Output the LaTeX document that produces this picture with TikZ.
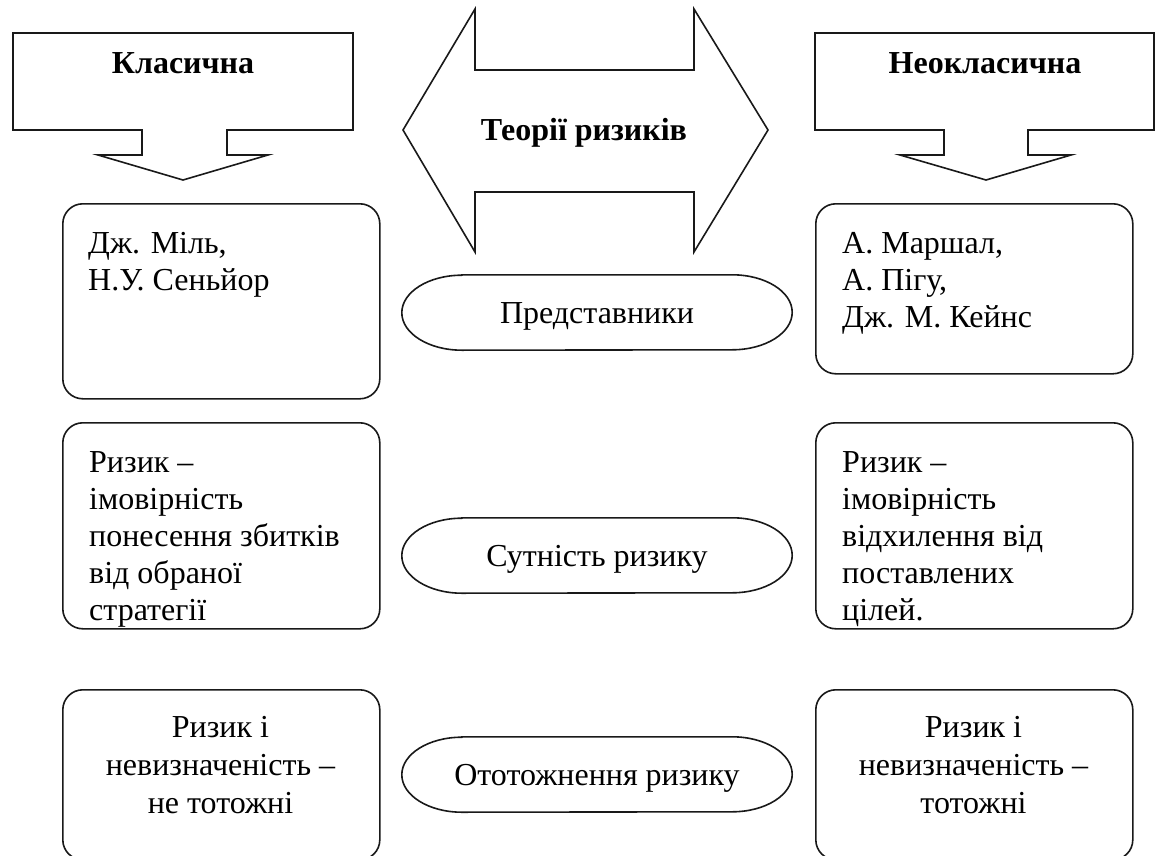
\documentclass[tikz,border=0pt]{standalone}
\usepackage{fontspec}
\setmainfont{Liberation Serif}
\begin{document}
\begin{tikzpicture}[x=1pt,y=-1pt,
  outline/.style={draw=black!90, line width=1.6pt, line join=miter},
  card/.style={draw=black!90, line width=1.6pt, rounded corners=20pt, inner sep=0pt, anchor=north west},
  bodytext/.style={font=\fontsize{32}{37}\selectfont, inner sep=0pt},
  wide/.style={font=\fontsize{32}{38}\selectfont, inner sep=0pt},
  headtext/.style={font=\bfseries\fontsize{32}{37}\selectfont, inner sep=0pt},
  pill/.style={font=\fontsize{32}{37}\selectfont, inner sep=0pt, minimum width=390pt, minimum height=75pt, text height=21pt, text depth=0pt}]

\useasboundingbox[fill=white] (0,0) rectangle (1156,856);

% left header: box with a downward arrow
\draw[outline] (13,33) -- (353,33) -- (353,130) -- (227,130) -- (227,155) -- (268,155)
  -- (183,180) -- (98,155) -- (142,155) -- (142,130) -- (13,130) -- cycle;
\node[headtext, anchor=base] (classic) at (183,74) {Класична};

% right header: box with a downward arrow
\draw[outline] (815,33) -- (1154,33) -- (1154,130) -- (1028,130) -- (1028,155) -- (1071,155)
  -- (986,180) -- (900,155) -- (944,155) -- (944,130) -- (815,130) -- cycle;
\node[headtext, anchor=base] (neoclassic) at (985,74) {Неокласична};

% central double arrow
\draw[outline] (403,130) -- (475,9) -- (475,70) -- (694,70) -- (694,9) -- (768,130)
  -- (694,252) -- (694,192) -- (475,192) -- (475,252) -- cycle;
\node[headtext, anchor=base] (theories) at (584,140) {Теорії ризиків};

% left column
\node[card, minimum width=317pt, minimum height=195pt] (l1) at (62,203) {};
\node[bodytext, align=left, anchor=north west] (l1t) at (88,227) {\strut Дж. Міль,\\Н.У. Сеньйор};
\node[card, minimum width=317pt, minimum height=206pt] (l2) at (62,422) {};
\node[bodytext, align=left, anchor=north west] (l2t) at (89,446)
  {\strut Ризик –\\імовірність\\понесення збитків\\від обраної\\стратегії};
\node[card, minimum width=317pt, minimum height=170pt] (l3) at (62,689) {};
\node[wide, align=center, anchor=north] (l3t) at (220.5,711) {\strut Ризик і\\невизначеність –\\не тотожні};

% right column
\node[card, minimum width=317pt, minimum height=170pt] (r1) at (815,203) {};
\node[bodytext, align=left, anchor=north west] (r1t) at (842,227) {\strut А. Маршал,\\А. Пігу,\\Дж. М. Кейнс};
\node[card, minimum width=317pt, minimum height=206pt] (r2) at (815,422) {};
\node[bodytext, align=left, anchor=north west] (r2t) at (842,446)
  {\strut Ризик –\\імовірність\\відхилення від\\поставлених\\цілей.};
\node[card, minimum width=317pt, minimum height=170pt] (r3) at (815,689) {};
\node[wide, align=center, anchor=north] (r3t) at (973.5,711) {\strut Ризик і\\невизначеність –\\тотожні};

% middle terminators: straight top and bottom, elliptic ends
\node[pill] (reps) at (597,312.5) {Представники};
\node[pill] (essence) at (597,555.5) {Сутність ризику};
\node[pill] (ident) at (597,774.5) {Ототожнення ризику};
\foreach \n in {reps,essence,ident}{
  \draw[outline] ([xshift=60pt]\n.north west) -- ([xshift=-60pt]\n.north east)
    arc[start angle=-90, end angle=90, x radius=60, y radius=37.5]
    -- ([xshift=60pt]\n.south west)
    arc[start angle=90, end angle=270, x radius=60, y radius=37.5] -- cycle;
}
\end{tikzpicture}
\end{document}
